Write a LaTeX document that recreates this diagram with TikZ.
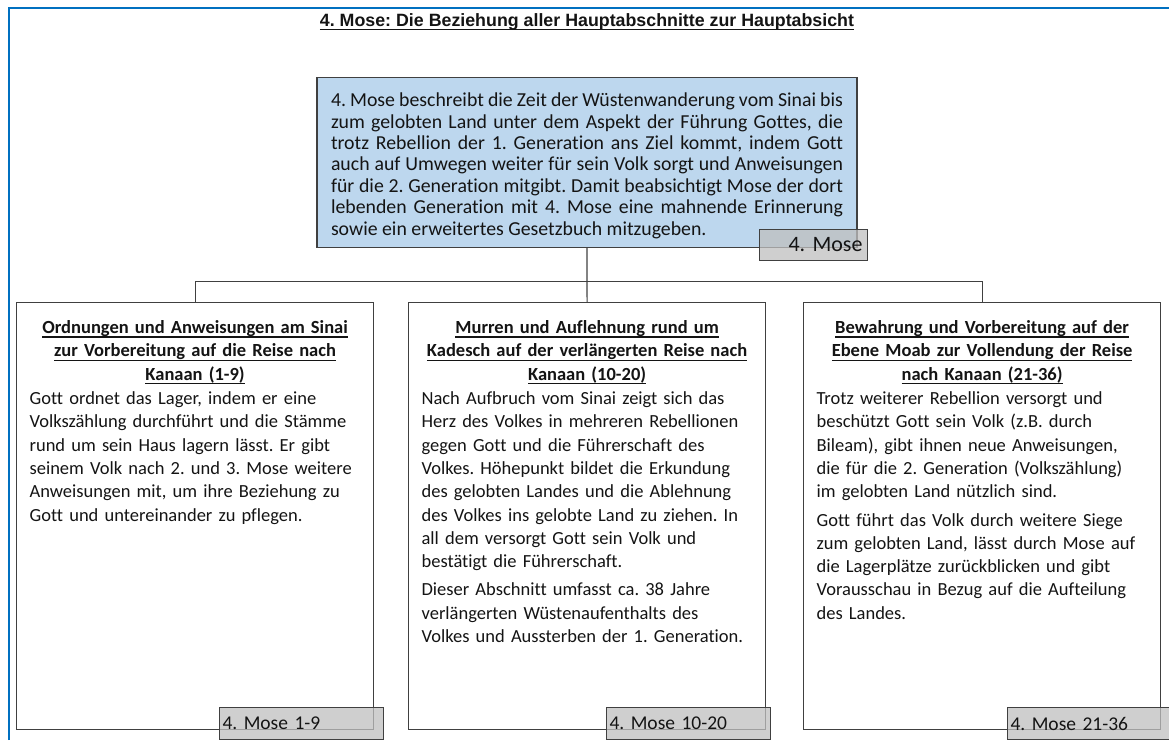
\documentclass[tikz,border=0pt]{standalone}
\usepackage{fontspec}
\setmainfont{Carlito}[Ligatures=CommonOff]
\newfontfamily\titlefont{Liberation Sans}
\usepackage{tikz}
\usetikzlibrary{positioning, calc}
\definecolor{myblue}{RGB}{0,112,192}
\definecolor{mydark}{RGB}{64,64,64}
\definecolor{mytext}{RGB}{20,20,20}
\definecolor{hdrblue}{RGB}{189,215,238}
\definecolor{lblgray}{RGB}{191,191,191}
\tikzset{
  line/.style={draw=mydark, line width=1.2pt},
  frame/.style={draw=myblue, line width=2.5pt},
  mainbox/.style={draw=mydark, fill=hdrblue, line width=1.2pt, rectangle, anchor=north, text width=512pt, inner xsep=14pt, inner ysep=8pt, text height=21pt, text depth=133pt, align=justify, font=\fontsize{19.8}{21.4}\selectfont},
  secbox/.style={draw=mydark, fill=white, line width=1.2pt, rectangle, anchor=north west, text width=331pt, inner xsep=13pt, inner ysep=10pt, text height=21pt, text depth=386pt, align=left, font=\fontsize{18.5}{23.3}\selectfont},
  lbl/.style={draw=mydark, fill=lblgray, fill opacity=0.75, text opacity=1, line width=1pt, rectangle, anchor=north west, minimum height=32pt, inner xsep=3pt, align=left, font=\fontsize{19.5}{20}\selectfont}
}
\newsavebox{\ulbox}
\newcommand{\hul}[1]{\sbox{\ulbox}{#1}\makebox[0pt][l]{\rule[-4pt]{\wd\ulbox}{1.2pt}}\usebox{\ulbox}}
\newcommand{\sechead}[1]{{\centering\bfseries #1\par}\vspace{1pt}}
\hyphenpenalty=10000
\frenchspacing

\begin{document}
\begin{tikzpicture}[x=1pt, y=-1pt, text=mytext]
  \useasboundingbox (0,0) rectangle (1169,740);
  \draw [frame] (9,740) -- (9,8) -- (1169,8);

  % Title
  \node (title) at (587,22) {\titlefont\bfseries\fontsize{17.8}{20}\selectfont\hul{4. Mose: Die Beziehung aller Hauptabschnitte zur Hauptabsicht}};

  % Main purpose (top)
  \node [mainbox] (main) at (587,77) {4. Mose beschreibt die Zeit der Wüstenwanderung vom Sinai bis\linebreak
    zum gelobten Land unter dem Aspekt der Führung Gottes, die\linebreak
    trotz Rebellion der 1. Generation ans Ziel kommt, indem Gott\linebreak
    auch auf Umwegen weiter für sein Volk sorgt und Anweisungen\linebreak
    für die 2. Generation mitgibt. Damit beabsichtigt Mose der dort\linebreak
    lebenden Generation mit 4. Mose eine mahnende Erinnerung\linebreak
    sowie ein erweitertes Gesetzbuch mitzugeben.};
  \node [lbl, minimum height=31pt, text width=98pt, inner xsep=5pt, align=right, font=\fontsize{22}{22}\selectfont] (mainlbl) at (759,229) {4. Mose};

  % Main sections (bottom)
  \node [secbox] (sec1) at (16,302) {\sechead{\hul{Ordnungen und Anweisungen am Sinai}\\
      \hul{zur Vorbereitung auf die Reise nach}\\ \hul{Kanaan (1-9)}}
    Gott ordnet das Lager, indem er eine\\
    Volkszählung durchführt und die Stämme\\
    rund um sein Haus lagern lässt. Er gibt\\
    seinem Volk nach 2. und 3. Mose weitere\\
    Anweisungen mit, um ihre Beziehung zu\\
    Gott und untereinander zu pflegen.};
  \node [secbox] (sec2) at (408,302) {\sechead{\hul{Murren und Auflehnung rund um}\\
      \hul{Kadesch auf der verlängerten Reise nach}\\ \hul{Kanaan (10-20)}}
    Nach Aufbruch vom Sinai zeigt sich das\\
    Herz des Volkes in mehreren Rebellionen\\
    gegen Gott und die Führerschaft des\\
    Volkes. Höhepunkt bildet die Erkundung\\
    des gelobten Landes und die Ablehnung\\
    des Volkes ins gelobte Land zu ziehen. In\\
    all dem versorgt Gott sein Volk und\\
    bestätigt die Führerschaft.\par\vspace{5pt}
    Dieser Abschnitt umfasst ca. 38 Jahre\\
    verlängerten Wüstenaufenthalts des\\
    Volkes und Aussterben der 1. Generation.};
  \node [secbox] (sec3) at (803,302) {\sechead{\hul{Bewahrung und Vorbereitung auf der}\\
      \hul{Ebene Moab zur Vollendung der Reise}\\ \hul{nach Kanaan (21-36)}}
    Trotz weiterer Rebellion versorgt und\\
    beschützt Gott sein Volk (z.B. durch\\
    Bileam), gibt ihnen neue Anweisungen,\\
    die für die 2. Generation (Volkszählung)\\
    im gelobten Land nützlich sind.\par\vspace{5pt}
    Gott führt das Volk durch weitere Siege\\
    zum gelobten Land, lässt durch Mose auf\\
    die Lagerplätze zurückblicken und gibt\\
    Vorausschau in Bezug auf die Aufteilung\\
    des Landes.};

  \node [lbl, text width=158pt] (sec1lbl) at (219,707) {4. Mose 1-9};
  \node [lbl, text width=158pt] (sec2lbl) at (606,707) {4. Mose 10-20};
  \node [lbl, text width=158pt] (sec3lbl) at (1007,707) {4. Mose 21-36};

  % Connectors
  \draw [line] (main.south) -- (sec2.north);
  \coordinate (bus) at ($(main.south)+(0,33)$);
  \draw [line] (sec1.north) |- (bus) -| (sec3.north);
\end{tikzpicture}
\end{document}
